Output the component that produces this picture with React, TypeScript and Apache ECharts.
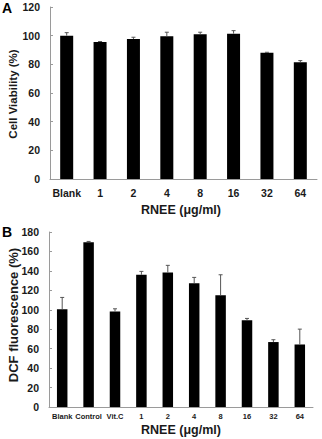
import React, { useEffect, useRef } from "react";
import * as echarts from "echarts";

// Panel A: cell viability
const catsA = ["Blank", "1", "2", "4", "8", "16", "32", "64"];
const viability = [100, 95.6, 97.7, 99.6, 101, 101.4, 88.1, 81.4];
const viabilityErr = [2.1, 0.3, 1.2, 2.8, 1.4, 2.1, 0.3, 1.2];

// Panel B: DCF fluorescence
const catsB = ["Blank", "Control", "Vit.C", "1", "2", "4", "8", "16", "32", "64"];
const dcf = [100.5, 169.5, 98.2, 136, 138.3, 127.4, 115, 89.3, 66.8, 64.3];
const dcfErr = [12.2, 0.8, 2.8, 3.5, 7.4, 5.9, 21, 1.8, 2.4, 15.8];

const ticksA = { min: 0, max: 120, interval: 20 };
const ticksB = { min: 0, max: 180, interval: 20 };

const FONT = '"Liberation Sans", Arial, sans-serif';
const AXIS_GRAY = "#9a9a9a";
const TEXT = "#1a1a1a";

function errorRender(capHalf: number) {
  return (params: any, api: any) => {
    const i = api.value(0);
    const v = api.value(1);
    const e = api.value(2);
    const base = api.coord([i, v]);
    const top = api.coord([i, v + e]);
    const style = { stroke: "#555", lineWidth: 1 };
    return {
      type: "group",
      children: [
        { type: "line", shape: { x1: base[0], y1: base[1], x2: top[0], y2: top[1] }, style },
        { type: "line", shape: { x1: top[0] - capHalf, y1: top[1], x2: top[0] + capHalf, y2: top[1] }, style },
      ],
    };
  };
}

function yAxis(gridIndex: number, t: { min: number; max: number; interval: number }) {
  return {
    type: "value",
    gridIndex,
    ...t,
    splitLine: { show: false },
    axisLine: { show: true, lineStyle: { color: AXIS_GRAY, width: 1 } },
    axisTick: { show: true, inside: true, length: 3, lineStyle: { color: AXIS_GRAY } },
    axisLabel: { margin: 10, color: TEXT, fontFamily: FONT, fontWeight: "bold", fontSize: 10.5 },
  };
}

function xAxis(gridIndex: number, cats: string[], fontSize: number, margin: number) {
  return {
    type: "category",
    gridIndex,
    data: cats,
    axisLine: { show: true, lineStyle: { color: AXIS_GRAY, width: 1 } },
    axisTick: { show: false },
    axisLabel: { margin, color: TEXT, fontFamily: FONT, fontWeight: "bold", fontSize, interval: 0 },
  };
}

export default function App() {
  const ref = useRef<HTMLDivElement>(null);

  useEffect(() => {
    if (!ref.current) return;
    const chart = echarts.init(ref.current, null, { renderer: "svg" });
    chart.setOption({
      animation: false,
      backgroundColor: "#ffffff",
      grid: [
        { left: 50, top: 7, width: 267, height: 172 },
        { left: 49, top: 232, width: 264, height: 175 },
      ],
      xAxis: [xAxis(0, catsA, 10.5, 8), xAxis(1, catsB, 7.5, 5)],
      yAxis: [yAxis(0, ticksA), yAxis(1, ticksB)],
      series: [
        {
          type: "bar",
          xAxisIndex: 0,
          yAxisIndex: 0,
          data: viability,
          barWidth: 13,
          itemStyle: { color: "#000" },
        },
        {
          type: "custom",
          xAxisIndex: 0,
          yAxisIndex: 0,
          renderItem: errorRender(2),
          data: viability.map((v, i) => [i, v, viabilityErr[i]]),
          encode: { x: 0, y: 1 },
          z: 3,
        },
        {
          type: "bar",
          xAxisIndex: 1,
          yAxisIndex: 1,
          data: dcf,
          barWidth: 10.5,
          itemStyle: { color: "#000" },
        },
        {
          type: "custom",
          xAxisIndex: 1,
          yAxisIndex: 1,
          renderItem: errorRender(2),
          data: dcf.map((v, i) => [i, v, dcfErr[i]]),
          encode: { x: 0, y: 1 },
          z: 3,
        },
      ],
      graphic: [
        { type: "text", left: 2, top: 1, style: { text: "A", font: `bold 14px ${FONT}`, fill: "#000" } },
        { type: "text", left: 2, top: 225, style: { text: "B", font: `bold 14px ${FONT}`, fill: "#000" } },
        {
          type: "text",
          x: 13,
          y: 94,
          rotation: Math.PI / 2,
          style: { text: "Cell Viability (%)", font: `bold 11.5px ${FONT}`, fill: TEXT, align: "center", verticalAlign: "middle" },
        },
        {
          type: "text",
          x: 181,
          y: 210,
          style: { text: "RNEE (μg/ml)", font: `bold 12.5px ${FONT}`, fill: TEXT, align: "center", verticalAlign: "middle" },
        },
        {
          type: "text",
          x: 13,
          y: 315,
          rotation: Math.PI / 2,
          style: { text: "DCF fluorescence (%)", font: `bold 13px ${FONT}`, fill: TEXT, align: "center", verticalAlign: "middle" },
        },
        {
          type: "text",
          x: 181,
          y: 430,
          style: { text: "RNEE (μg/ml)", font: `bold 12.5px ${FONT}`, fill: TEXT, align: "center", verticalAlign: "middle" },
        },
      ],
    });
    return () => chart.dispose();
  }, []);

  return (
    <div
      ref={ref}
      style={{ position: "fixed", left: 0, top: 0, width: 322, height: 439, background: "#fff" }}
    />
  );
}
